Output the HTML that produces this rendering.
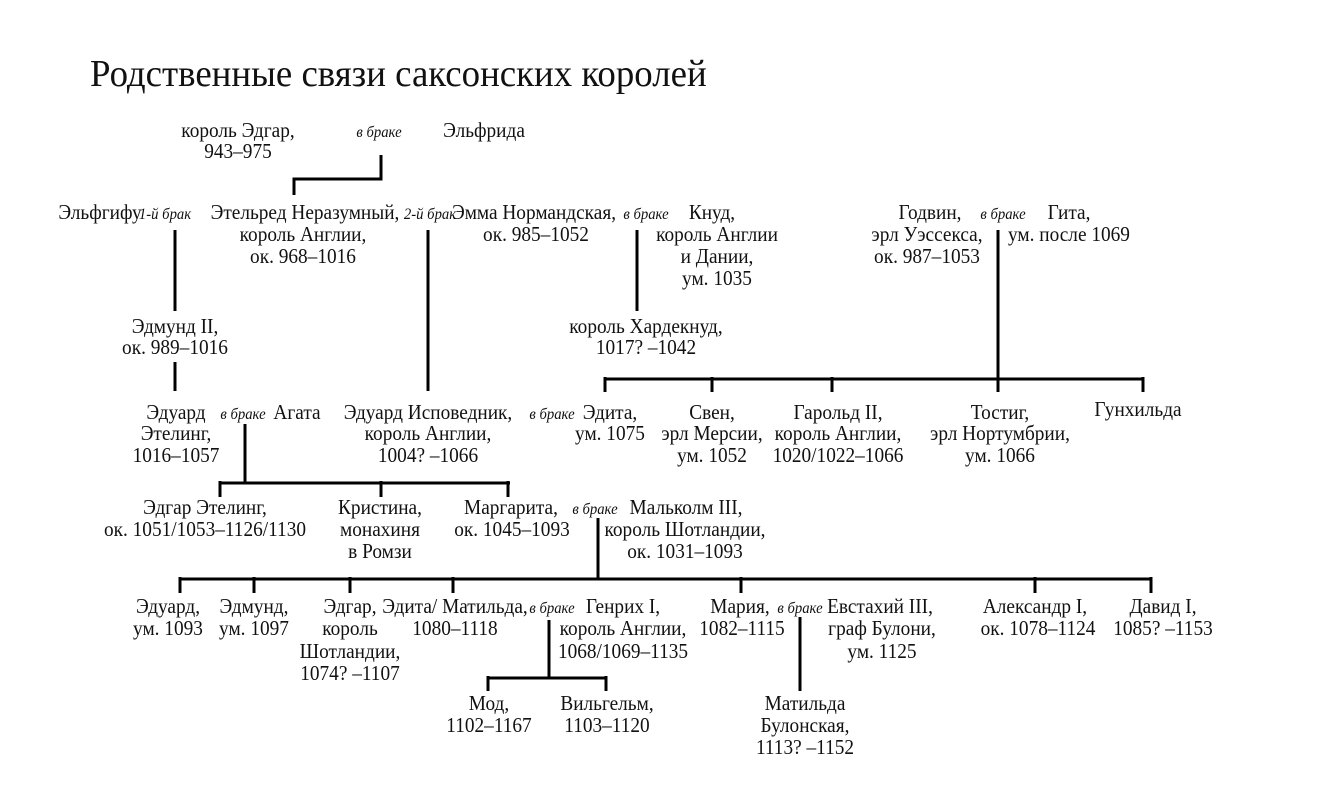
<!DOCTYPE html>
<html><head><meta charset="utf-8"><style>
html,body{margin:0;padding:0;background:#fff;}
svg{display:block}
text{font-family:"Liberation Serif",serif;font-size:21px;fill:#111;text-anchor:middle}
text.i{font-style:italic;font-size:16px}
g.t text{transform-box:fill-box;transform-origin:center;transform:scaleX(0.92)}
</style></head><body>
<svg width="1331" height="793" viewBox="0 0 1331 793" xmlns="http://www.w3.org/2000/svg">
<text transform="translate(90,86) scale(0.97,1)" style="font-size:38px;text-anchor:start">Родственные связи саксонских королей</text>
<g stroke="#000" stroke-width="3" fill="none">
<path d="M381 155V179H294V195"/>
<path d="M175 230V311M175 362V391"/>
<path d="M428 230V391"/>
<path d="M637 230V311"/>
<path d="M998 230V379M605 379H1143M605 377V392M712 377V392M832 377V392M998 377V392M1143 377V392"/>
<path d="M245 424V483M220 483H510M220 481V497M381 481V497M508 481V497"/>
<path d="M598 518V579M180 579H1151M180 577V593M254 577V593M350 577V593M453 577V593M741 577V593M1035 577V593M1151 577V593"/>
<path d="M549 620V678M488 678H606M488 676V691M606 676V691"/>
<path d="M800 617V691"/>
</g>
<g class="t" transform="translate(0,1)">
<text x="238" y="136">король Эдгар,</text>
<text x="238" y="157">943–975</text>
<text class="i" x="379" y="136">в браке</text>
<text x="484" y="136">Эльфрида</text>

<text x="100" y="218">Эльфгифу</text>
<text class="i" x="165" y="218">1-й брак</text>
<text x="305" y="218">Этельред Неразумный,</text>
<text x="303" y="240">король Англии,</text>
<text x="303" y="262">ок. 968–1016</text>
<text class="i" x="430" y="218">2-й брак</text>
<text x="534" y="218">Эмма Нормандская,</text>
<text x="536" y="240">ок. 985–1052</text>
<text class="i" x="646" y="218">в браке</text>
<text x="712" y="218">Кнуд,</text>
<text x="717" y="240">король Англии</text>
<text x="717" y="262">и Дании,</text>
<text x="717" y="284">ум. 1035</text>
<text x="646" y="332">король Хардекнуд,</text>
<text x="646" y="353">1017? –1042</text>

<text x="930" y="218">Годвин,</text>
<text x="927" y="240">эрл Уэссекса,</text>
<text x="927" y="262">ок. 987–1053</text>
<text class="i" x="1003" y="218">в браке</text>
<text x="1069" y="218">Гита,</text>
<text x="1069" y="240">ум. после 1069</text>

<text x="175" y="332">Эдмунд II,</text>
<text x="175" y="353">ок. 989–1016</text>

<text x="176" y="418">Эдуард</text>
<text x="176" y="439">Этелинг,</text>
<text x="176" y="461">1016–1057</text>
<text class="i" x="243" y="418">в браке</text>
<text x="297" y="418">Агата</text>
<text x="428" y="418">Эдуард Исповедник,</text>
<text x="428" y="439">король Англии,</text>
<text x="428" y="461">1004? –1066</text>
<text class="i" x="552" y="418">в браке</text>
<text x="610" y="418">Эдита,</text>
<text x="610" y="439">ум. 1075</text>
<text x="712" y="418">Свен,</text>
<text x="712" y="439">эрл Мерсии,</text>
<text x="712" y="461">ум. 1052</text>
<text x="838" y="418">Гарольд II,</text>
<text x="838" y="439">король Англии,</text>
<text x="838" y="461">1020/1022–1066</text>
<text x="1000" y="418">Тостиг,</text>
<text x="1000" y="439">эрл Нортумбрии,</text>
<text x="1000" y="461">ум. 1066</text>
<text x="1138" y="415">Гунхильда</text>

<text x="205" y="513">Эдгар Этелинг,</text>
<text x="205" y="535">ок. 1051/1053–1126/1130</text>
<text x="380" y="513">Кристина,</text>
<text x="380" y="535">монахиня</text>
<text x="380" y="557">в Ромзи</text>
<text x="511" y="513">Маргарита,</text>
<text x="512" y="535">ок. 1045–1093</text>
<text class="i" x="595" y="513">в браке</text>
<text x="686" y="513">Мальколм III,</text>
<text x="685" y="535">король Шотландии,</text>
<text x="685" y="557">ок. 1031–1093</text>

<text x="168" y="612">Эдуард,</text>
<text x="168" y="634">ум. 1093</text>
<text x="254" y="612">Эдмунд,</text>
<text x="254" y="634">ум. 1097</text>
<text x="350" y="612">Эдгар,</text>
<text x="350" y="634">король</text>
<text x="350" y="657">Шотландии,</text>
<text x="350" y="679">1074? –1107</text>
<text x="455" y="612">Эдита/ Матильда,</text>
<text x="455" y="634">1080–1118</text>
<text class="i" x="552" y="612">в браке</text>
<text x="623" y="612">Генрих I,</text>
<text x="623" y="634">король Англии,</text>
<text x="623" y="657">1068/1069–1135</text>
<text x="740" y="612">Мария,</text>
<text x="742" y="634">1082–1115</text>
<text class="i" x="800" y="612">в браке</text>
<text x="880" y="612">Евстахий III,</text>
<text x="882" y="634">граф Булони,</text>
<text x="882" y="657">ум. 1125</text>
<text x="1035" y="612">Александр I,</text>
<text x="1038" y="634">ок. 1078–1124</text>
<text x="1163" y="612">Давид I,</text>
<text x="1163" y="634">1085? –1153</text>

<text x="489" y="709">Мод,</text>
<text x="489" y="731">1102–1167</text>
<text x="607" y="709">Вильгельм,</text>
<text x="607" y="731">1103–1120</text>
<text x="805" y="709">Матильда</text>
<text x="805" y="731">Булонская,</text>
<text x="805" y="753">1113? –1152</text>
</g>
</svg>
</body></html>
